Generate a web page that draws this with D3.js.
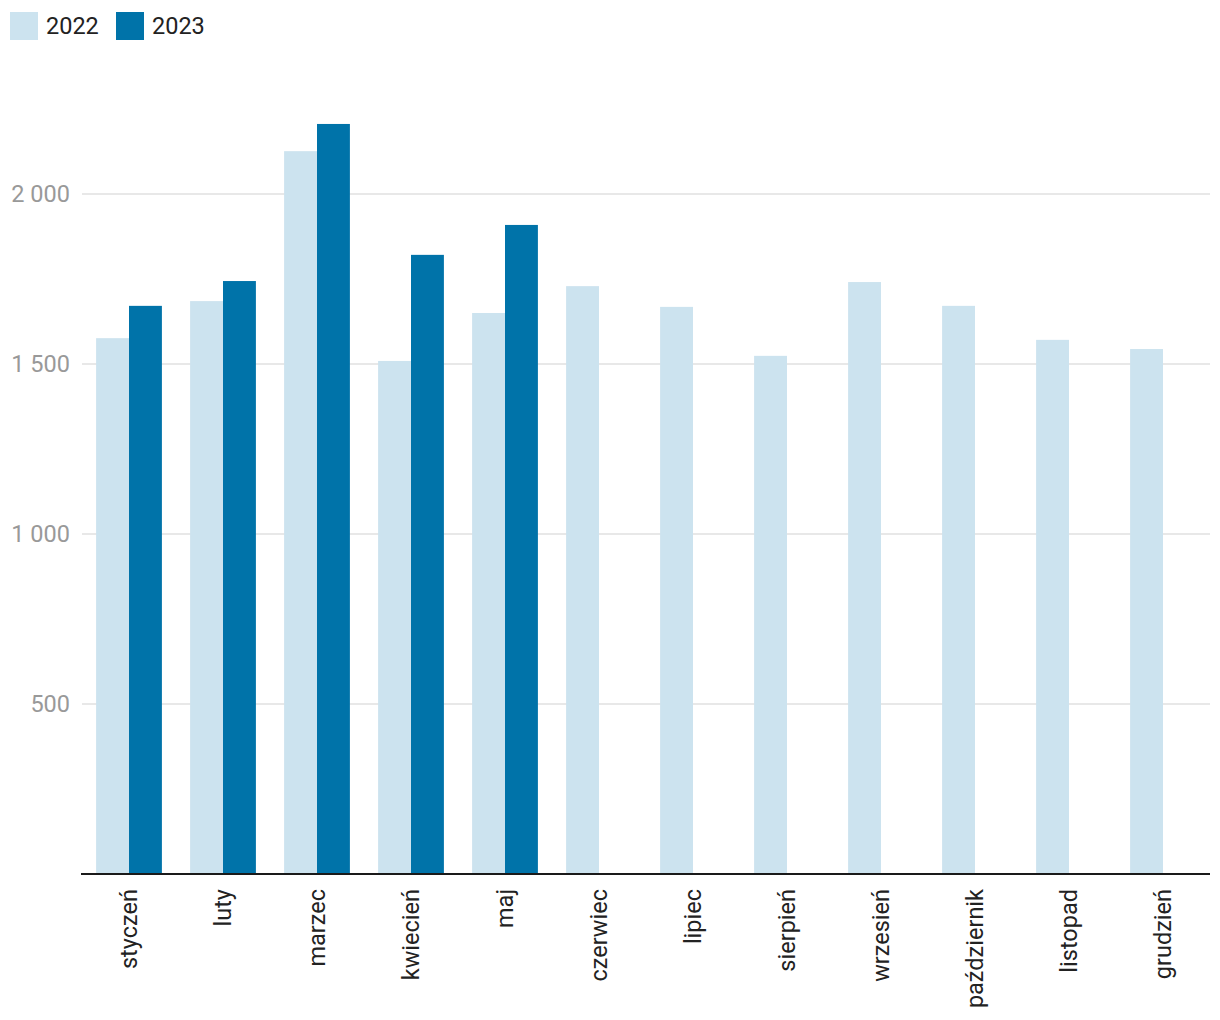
<!DOCTYPE html>
<html><head><meta charset="utf-8">
<script src="https://cdn.jsdelivr.net/npm/d3@7"></script>
<style>body{margin:0;background:#fff;font-family:Roboto,sans-serif;}</style>
</head><body><svg id="c" width="1220" height="1020"></svg>
<script>
const categories = ["styczeń","luty","marzec","kwiecień","maj","czerwiec","lipiec","sierpień","wrzesień","październik","listopad","grudzień"];
const seriesNames = ["2022","2023"];
const values2022 = [1576,1685,2126,1509,1650,1729,1668,1524,1741,1671,1571,1544];
const values2023 = [1671,1744,2206,1821,1909,null,null,null,null,null,null,null];
const yTicks = [500,1000,1500,2000];
const colors = ["#cce3ef","#0073a9"];

const svg = d3.select("#c");
const x = d3.scaleBand().domain(categories).range([82,1210]).paddingInner(0.3).paddingOuter(0.15);
const xs = d3.scaleBand().domain(seriesNames).range([0,x.bandwidth()]);
const y = d3.scaleLinear().domain([0,2000]).range([874,194]);
const FS = 23.5;

svg.append("g").selectAll("line").data(yTicks).join("line")
  .attr("x1",82).attr("x2",1210).attr("y1",d=>y(d)).attr("y2",d=>y(d))
  .attr("stroke","#e0e0e0").attr("stroke-width",1.5);
svg.append("g").selectAll("text").data(yTicks).join("text")
  .attr("x",70).attr("y",d=>y(d)).attr("dy","0.35em").attr("text-anchor","end")
  .attr("fill","#999").attr("font-size",FS).text(d=>d3.format(",")(d).replace(/,/g," "));

const data = [values2022, values2023];
seriesNames.forEach((s,i)=>{
  svg.append("g").selectAll("rect").data(categories.map((c,j)=>({c,v:data[i][j]})).filter(d=>d.v!=null))
    .join("rect").attr("x",d=>x(d.c)+xs(s)).attr("width",xs.bandwidth())
    .attr("y",d=>y(d.v)).attr("height",d=>y(0)-y(d.v)).attr("fill",colors[i]);
});

svg.append("line").attr("x1",81).attr("x2",1210).attr("y1",874).attr("y2",874).attr("stroke","#1a1a1a").attr("stroke-width",2);

svg.append("g").selectAll("text").data(categories).join("text")
  .attr("transform",d=>`translate(${x(d)+x.bandwidth()/2},889) rotate(-90)`)
  .attr("text-anchor","end").attr("dy","0.35em").attr("font-size",FS).attr("fill","#222").text(d=>d);

const lg = svg.append("g");
const lx = [10,116];
seriesNames.forEach((s,i)=>{
  lg.append("rect").attr("x",lx[i]).attr("y",12).attr("width",28).attr("height",28).attr("fill",colors[i]);
  lg.append("text").attr("x",lx[i]+36).attr("y",26).attr("dy","0.35em").attr("font-size",FS).attr("fill","#222").text(s);
});
</script></body></html>
